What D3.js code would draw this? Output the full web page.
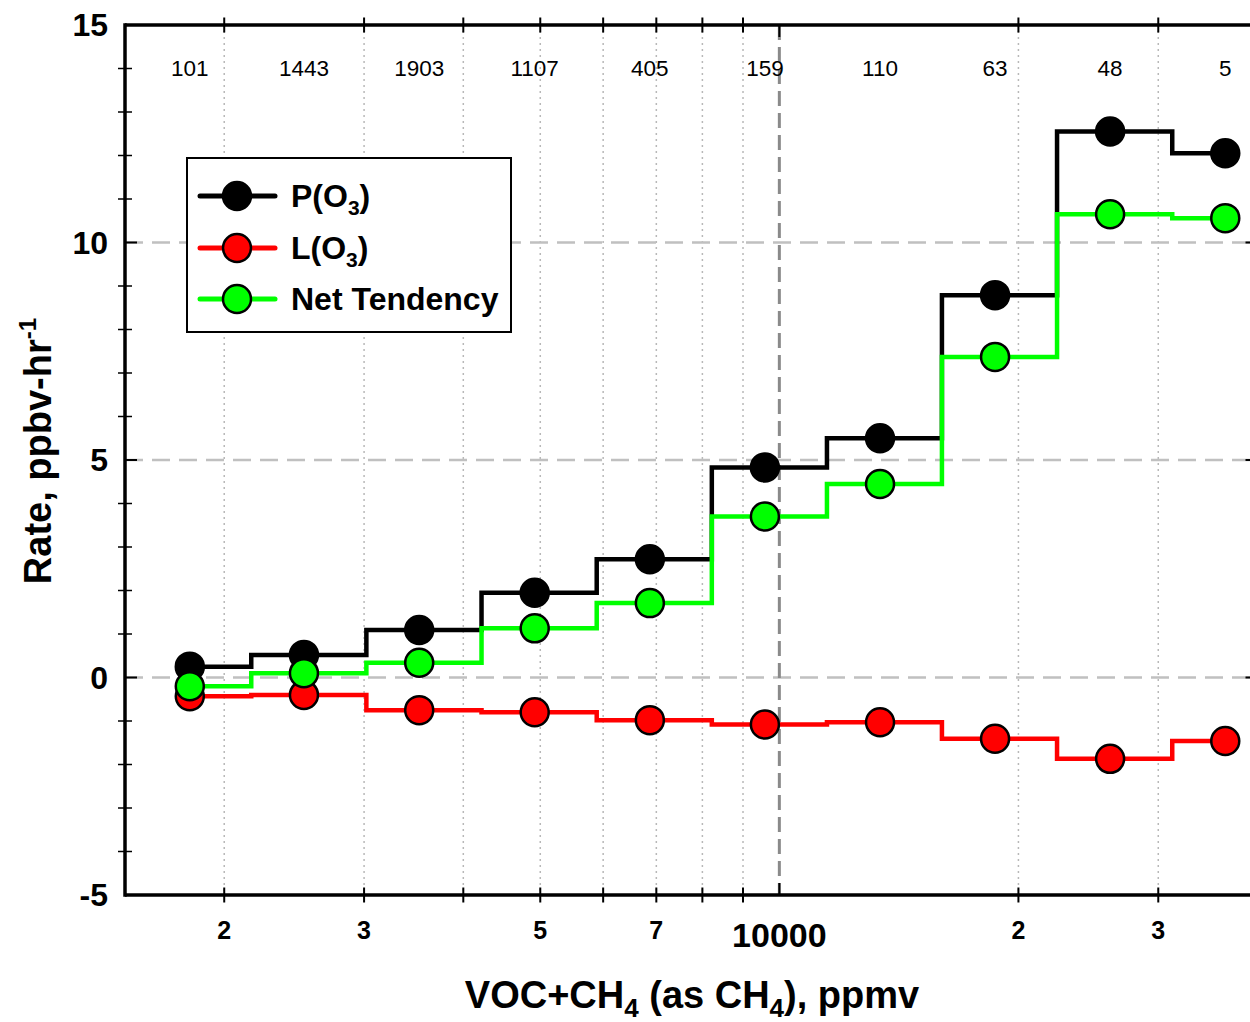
<!DOCTYPE html>
<html>
<head>
<meta charset="utf-8">
<script src="https://cdn.jsdelivr.net/npm/d3@7"></script>
<style>
  html, body { margin: 0; padding: 0; background: #fff; }
  svg { display: block; font-family: "Liberation Sans", Arial, sans-serif; }
</style>
</head>
<body>
<svg id="chart" width="1250" height="1022"></svg>
<script>
// Bin centres (VOC+CH4 as CH4, ppmv) where the markers sit
const binCenters = [1810, 2520, 3520, 4920, 6870, 9590, 13390, 18690, 26090, 36430];
// Positions where the step lines change level between neighbouring bins
const stepEdges = [2163, 3020, 4217, 5889, 8222, 11480, 16022, 22370, 31240];
// Number of samples in each bin (shown along the top)
const binCounts = [101, 1443, 1903, 1107, 405, 159, 110, 63, 48, 5];

// Rates, ppbv/hr
const prodO3 = [0.25, 0.52, 1.09, 1.95, 2.72, 4.83, 5.50, 8.79, 12.55, 12.05];
const lossO3 = [-0.43, -0.40, -0.75, -0.80, -0.98, -1.08, -1.03, -1.41, -1.87, -1.46];
const netTendency = [-0.20, 0.10, 0.34, 1.13, 1.71, 3.70, 4.45, 7.37, 10.65, 10.56];

// Axis ticks
const xMinorTicks = [2000, 3000, 4000, 5000, 6000, 7000, 8000, 9000, 20000, 30000];
const xMajorTicks = [10000];
const xLabelValues = [2000, 3000, 5000, 7000, 20000, 30000];
const xLabelTexts = ["2", "3", "5", "7", "2", "3"];
const yMajorTicks = [-5, 0, 5, 10, 15];
const yMinorTicks = d3.range(-5, 16).filter(v => v % 5 !== 0);
const yGridLines = [0, 5, 10];

(function draw() {
  const svg = d3.select("#chart");
  const W = 1250, H = 1022;
  const pL = 125, pT = 25, pB = 895, pR = 1257.5;

  const x = d3.scaleLog().domain([1500, 40000]).range([pL, pR]);
  const y = d3.scaleLinear().domain([-5, 15]).range([pB, pT]);

  svg.append("rect").attr("width", W).attr("height", H).attr("fill", "#fff");

  // Grid
  const grid = svg.append("g");
  grid.selectAll("line.vgrid").data(xMinorTicks).join("line")
    .attr("x1", d => x(d)).attr("x2", d => x(d))
    .attr("y1", pT).attr("y2", pB)
    .attr("stroke", "#b8b8b8").attr("stroke-width", 1.5)
    .attr("stroke-dasharray", "2,4");
  grid.selectAll("line.hgrid").data(yGridLines).join("line")
    .attr("x1", pL).attr("x2", pR)
    .attr("y1", d => y(d)).attr("y2", d => y(d))
    .attr("stroke", "#c0c0c0").attr("stroke-width", 2.5)
    .attr("stroke-dasharray", "18,9");
  grid.selectAll("line.ref").data(xMajorTicks).join("line")
    .attr("x1", d => x(d)).attr("x2", d => x(d))
    .attr("y1", pT).attr("y2", pB)
    .attr("stroke", "#8a8a8a").attr("stroke-width", 3)
    .attr("stroke-dasharray", "15,7");

  // Axis frame
  const frame = svg.append("g").attr("stroke", "#000");
  frame.append("line").attr("x1", pL).attr("x2", pR + 2).attr("y1", pT).attr("y2", pT).attr("stroke-width", 3.5);
  frame.append("line").attr("x1", pL).attr("x2", pR + 2).attr("y1", pB).attr("y2", pB).attr("stroke-width", 3.5);
  frame.append("line").attr("x1", pL).attr("x2", pL).attr("y1", pT - 1.7).attr("y2", pB + 1.7).attr("stroke-width", 3.5);
  frame.append("line").attr("x1", pR).attr("x2", pR).attr("y1", pT - 1.7).attr("y2", pB + 1.7).attr("stroke-width", 3.5);

  // X ticks: minor cross the axis, major point inward
  [pT, pB].forEach(yy => {
    frame.selectAll(null).data(xMinorTicks).join("line")
      .attr("x1", d => x(d)).attr("x2", d => x(d))
      .attr("y1", yy - 7.5).attr("y2", yy + 7.5).attr("stroke-width", 2);
    const dir = yy === pT ? 1 : -1;
    frame.selectAll(null).data(xMajorTicks).join("line")
      .attr("x1", d => x(d)).attr("x2", d => x(d))
      .attr("y1", yy).attr("y2", yy + dir * 12).attr("stroke-width", 2);
  });
  // Y ticks
  [pL, pR].forEach(xx => {
    const half = xx === pL ? 7 : 5.5;
    frame.selectAll(null).data(yMinorTicks).join("line")
      .attr("x1", xx - half).attr("x2", xx + half)
      .attr("y1", d => y(d)).attr("y2", d => y(d)).attr("stroke-width", 1.5);
    const dir = xx === pL ? 1 : -1;
    frame.selectAll(null).data(yMajorTicks).join("line")
      .attr("x1", xx).attr("x2", xx + dir * 12)
      .attr("y1", d => y(d)).attr("y2", d => y(d)).attr("stroke-width", 2);
  });

  // Tick labels
  svg.append("g").selectAll("text").data(yMajorTicks).join("text")
    .attr("x", 108).attr("y", d => y(d) + 11)
    .attr("text-anchor", "end").attr("font-size", 32).attr("font-weight", "bold")
    .text(d => d);
  svg.append("g").selectAll("text").data(xLabelValues).join("text")
    .attr("x", d => x(d)).attr("y", 939)
    .attr("text-anchor", "middle").attr("font-size", 25).attr("font-weight", "bold")
    .text((d, i) => xLabelTexts[i]);
  svg.append("g").selectAll("text").data(xMajorTicks).join("text")
    .attr("x", d => x(d)).attr("y", 947)
    .attr("text-anchor", "middle").attr("font-size", 34).attr("font-weight", "bold")
    .text(d => d);

  // Bin counts along the top
  svg.append("g").selectAll("text").data(binCenters).join("text")
    .attr("x", d => x(d)).attr("y", 76)
    .attr("text-anchor", "middle").attr("font-size", 22.5)
    .text((d, i) => binCounts[i]);

  // Axis titles
  const xt = svg.append("text").attr("x", 692).attr("y", 1008)
    .attr("text-anchor", "middle").attr("font-size", 38).attr("font-weight", "bold");
  xt.append("tspan").text("VOC+CH");
  xt.append("tspan").attr("font-size", 26).attr("dy", 9).text("4");
  xt.append("tspan").attr("dy", -9).text(" (as CH");
  xt.append("tspan").attr("font-size", 26).attr("dy", 9).text("4");
  xt.append("tspan").attr("dy", -9).text("), ppmv");

  const yt = svg.append("text").attr("transform", "translate(51,451) rotate(-90)")
    .attr("text-anchor", "middle").attr("font-size", 38).attr("font-weight", "bold");
  yt.append("tspan").text("Rate, ppbv-hr");
  yt.append("tspan").attr("font-size", 24).attr("dy", -15).text("-1");

  // Step lines + markers
  function stepPoints(vals) {
    const pts = [[binCenters[0], vals[0]]];
    stepEdges.forEach((e, i) => {
      pts.push([e, vals[i]]);
      pts.push([e, vals[i + 1]]);
    });
    pts.push([binCenters[binCenters.length - 1], vals[vals.length - 1]]);
    return pts;
  }
  const line = d3.line().x(d => x(d[0])).y(d => y(d[1]));

  const series = [
    { name: "P(O3)", values: prodO3, color: "#000000" },
    { name: "L(O3)", values: lossO3, color: "#ff0000" },
    { name: "Net Tendency", values: netTendency, color: "#00ff00" }
  ];

  series.forEach(s => {
    const g = svg.append("g");
    g.append("path").attr("d", line(stepPoints(s.values)))
      .attr("fill", "none").attr("stroke", s.color).attr("stroke-width", 4.5)
      .attr("stroke-linejoin", "miter");
    g.selectAll("circle").data(s.values).join("circle")
      .attr("cx", (d, i) => x(binCenters[i])).attr("cy", d => y(d))
      .attr("r", 14).attr("fill", s.color)
      .attr("stroke", "#000").attr("stroke-width", 2.5);
  });

  // Legend
  const lg = svg.append("g");
  lg.append("rect").attr("x", 187).attr("y", 158).attr("width", 324).attr("height", 174)
    .attr("fill", "#fff").attr("stroke", "#000").attr("stroke-width", 2);
  const legendY = [196, 248, 299];
  series.forEach((s, i) => {
    const yy = legendY[i];
    lg.append("line").attr("x1", 200).attr("x2", 275).attr("y1", yy).attr("y2", yy)
      .attr("stroke", s.color).attr("stroke-width", 5).attr("stroke-linecap", "round");
    lg.append("circle").attr("cx", 237).attr("cy", yy).attr("r", 14)
      .attr("fill", s.color).attr("stroke", "#000").attr("stroke-width", 2.5);
    const t = lg.append("text").attr("x", 291).attr("y", yy + 11)
      .attr("font-size", 32).attr("font-weight", "bold");
    if (i < 2) {
      t.append("tspan").text(i === 0 ? "P(O" : "L(O");
      t.append("tspan").attr("font-size", 21).attr("dy", 8).text("3");
      t.append("tspan").attr("dy", -8).text(")");
    } else {
      t.text(s.name);
    }
  });
})();
</script>
</body>
</html>
